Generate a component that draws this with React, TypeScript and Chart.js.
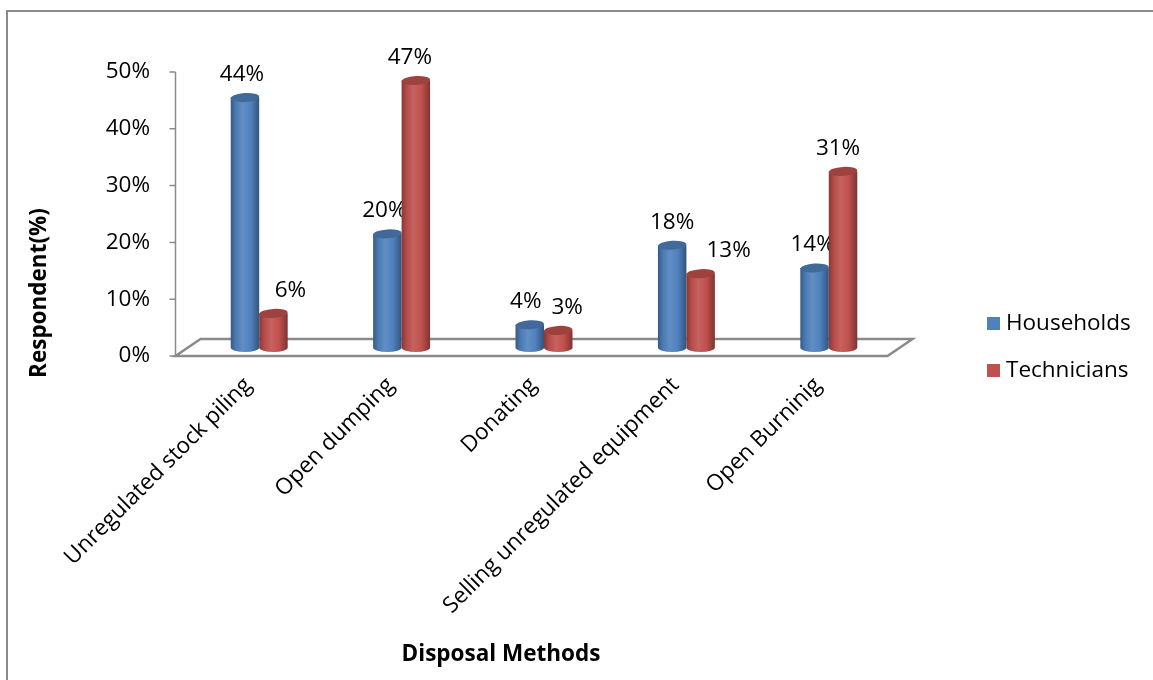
import React, { useEffect, useRef } from 'react';
import { Chart, registerables } from 'chart.js';

Chart.register(...registerables);

const categories = ['Unregulated stock piling', 'Open dumping', 'Donating', 'Selling unregulated equipment', 'Open Burninig'];
const households = [44, 20, 4, 18, 14];
const technicians = [6, 47, 3, 13, 31];
const seriesNames = ['Households', 'Technicians'];
const seriesColors = ['#4F81BD', '#C0504D'];
const yMin = 0;
const yMax = 50;
const yStep = 10;
const xTitle = 'Disposal Methods';
const yTitle = 'Respondent(%)';

const FONT = '"Open Sans", "Noto Sans", sans-serif';
const FS = 22.5;
const AXIS_GREY = '#8a8a8a';

function shade(hex: string, f: number): string {
  const n = parseInt(hex.slice(1), 16);
  let r = (n >> 16) & 255, g = (n >> 8) & 255, b = n & 255;
  if (f < 0) {
    r = Math.round(r * (1 + f)); g = Math.round(g * (1 + f)); b = Math.round(b * (1 + f));
  } else {
    r = Math.round(r + (255 - r) * f); g = Math.round(g + (255 - g) * f); b = Math.round(b + (255 - b) * f);
  }
  return `rgb(${r},${g},${b})`;
}

// depth of the 3D floor (half-depth offsets from the bar plane)
const DX = 12.5;
const DY = 8.5;

const floorPlugin = {
  id: 'floor3d',
  beforeDatasetsDraw(chart: any) {
    const { ctx, chartArea } = chart;
    const ys = chart.scales.y;
    const y0 = ys.getPixelForValue(0);
    const fl = chartArea.left - DX, fr = chartArea.right - DX;
    const bl = chartArea.left + DX, br = chartArea.right + DX;
    const by = y0 - 2 * DY;
    ctx.save();
    ctx.strokeStyle = AXIS_GREY;
    ctx.lineWidth = 2.5;
    ctx.lineJoin = 'miter';
    ctx.beginPath();
    ctx.moveTo(fl, y0);
    ctx.lineTo(fr, y0);
    ctx.lineTo(br, by);
    ctx.lineTo(bl, by);
    ctx.closePath();
    ctx.stroke();
    // vertical axis line and ticks
    ctx.lineWidth = 1.5;
    ctx.beginPath();
    ctx.moveTo(fl, y0);
    ctx.lineTo(fl, ys.getPixelForValue(yMax));
    for (let v = yMin; v <= yMax; v += yStep) {
      const py = ys.getPixelForValue(v);
      ctx.moveTo(fl - 6, py);
      ctx.lineTo(fl, py);
    }
    ctx.stroke();
    ctx.restore();
  },
};

const labelNudge = [[-3, -3, -4, 0, -2], [17, -6, 9, 28, -5]];

const cylinderPlugin = {
  id: 'cylinders',
  afterDatasetsDraw(chart: any) {
    const { ctx } = chart;
    chart.data.datasets.forEach((ds: any, di: number) => {
      const meta = chart.getDatasetMeta(di);
      const c = seriesColors[di];
      meta.data.forEach((el: any, i: number) => {
        const { x, y, base, width } = el.getProps(['x', 'y', 'base', 'width'], true);
        const rx = width / 2;
        const ry = 4.5;
        const left = x - rx, right = x + rx;
        const g = ctx.createLinearGradient(left, 0, right, 0);
        g.addColorStop(0, shade(c, -0.3));
        g.addColorStop(0.18, shade(c, -0.05));
        g.addColorStop(0.42, shade(c, 0.1));
        g.addColorStop(0.7, c);
        g.addColorStop(1, shade(c, -0.35));
        ctx.save();
        ctx.beginPath();
        ctx.moveTo(left, y);
        ctx.lineTo(left, base);
        ctx.ellipse(x, base, rx, ry, 0, Math.PI, 0, true);
        ctx.lineTo(right, y);
        ctx.closePath();
        ctx.fillStyle = g;
        ctx.fill();
        // top cap
        ctx.beginPath();
        ctx.ellipse(x, y, rx, ry, -0.06, 0, Math.PI * 2);
        ctx.fillStyle = shade(c, -0.18);
        ctx.fill();
        ctx.restore();
        // value label
        ctx.save();
        ctx.font = `${FS}px ${FONT}`;
        ctx.fillStyle = '#000';
        ctx.textAlign = 'center';
        ctx.textBaseline = 'middle';
        ctx.fillText(`${ds.data[i]}%`, x + labelNudge[di][i], y - 23);
        ctx.restore();
      });
    });
  },
};

const decorPlugin = {
  id: 'decor',
  afterDraw(chart: any) {
    const { ctx, chartArea } = chart;
    ctx.save();
    // axis titles
    ctx.fillStyle = '#000';
    ctx.font = `bold ${FS}px ${FONT}`;
    ctx.textAlign = 'center';
    ctx.textBaseline = 'middle';
    ctx.fillText(xTitle, 501, chartArea.bottom + 299);
    ctx.save();
    ctx.translate(40, chartArea.bottom - 63);
    ctx.rotate(-Math.PI / 2);
    ctx.fillText(yTitle, 0, 0);
    ctx.restore();
    // legend
    ctx.font = `${FS}px ${FONT}`;
    ctx.textAlign = 'left';
    chart.data.datasets.forEach((ds: any, di: number) => {
      const cy = chartArea.bottom - 32 + di * 47;
      const sx = chartArea.right + 87;
      ctx.fillStyle = seriesColors[di];
      ctx.fillRect(sx, cy - 7, 13, 13);
      ctx.fillStyle = '#000';
      ctx.fillText(ds.label, sx + 19, cy);
    });
    ctx.restore();
  },
};

export default function App() {
  const ref = useRef<HTMLCanvasElement | null>(null);
  useEffect(() => {
    if (!ref.current) return;
    const chart = new Chart(ref.current, {
      type: 'bar',
      data: {
        labels: categories,
        datasets: [
          { label: seriesNames[0], data: households, backgroundColor: 'rgba(0,0,0,0)', yAxisID: 'yb' },
          { label: seriesNames[1], data: technicians, backgroundColor: 'rgba(0,0,0,0)', yAxisID: 'yb' },
        ],
      },
      options: {
        responsive: false,
        animation: false,
        events: [],
        layout: { padding: { top: 72, right: 253, left: 0, bottom: 0 } },
        datasets: { bar: { categoryPercentage: 0.4, barPercentage: 1.0 } },
        plugins: { legend: { display: false }, tooltip: { enabled: false }, title: { display: false } },
        scales: {
          x: {
            grid: { display: false, drawTicks: false },
            border: { display: false },
            ticks: {
              autoSkip: false,
              maxRotation: 45,
              minRotation: 45,
              padding: 16,
              labelOffset: -11,
              color: '#000',
              font: { family: FONT, size: FS },
            },
            afterFit: (s: any) => { s.height = 680 - 356; },
          },
          y: {
            min: yMin,
            max: yMax,
            grid: { display: false, drawTicks: false },
            border: { display: false },
            ticks: {
              stepSize: yStep,
              padding: 38,
              color: '#000',
              font: { family: FONT, size: FS },
              callback: (v: any) => `${v}%`,
            },
            afterFit: (s: any) => { s.width = 188; },
          },
          yb: {
            display: false,
            min: yMin - 1.5,
            max: yMax - 1.5,
          },
        },
      },
      plugins: [floorPlugin, cylinderPlugin, decorPlugin],
    });
    return () => chart.destroy();
  }, []);

  return (
    <div style={{ position: 'fixed', left: 0, top: 0, width: 1153, height: 680, overflow: 'hidden', background: '#fff' }}>
      <div style={{ position: 'absolute', left: 6, top: 10, width: 1300, height: 900, border: `2px solid ${AXIS_GREY}` }} />
      <canvas ref={ref} width={1153} height={680} style={{ position: 'absolute', left: 0, top: 0 }} />
    </div>
  );
}
